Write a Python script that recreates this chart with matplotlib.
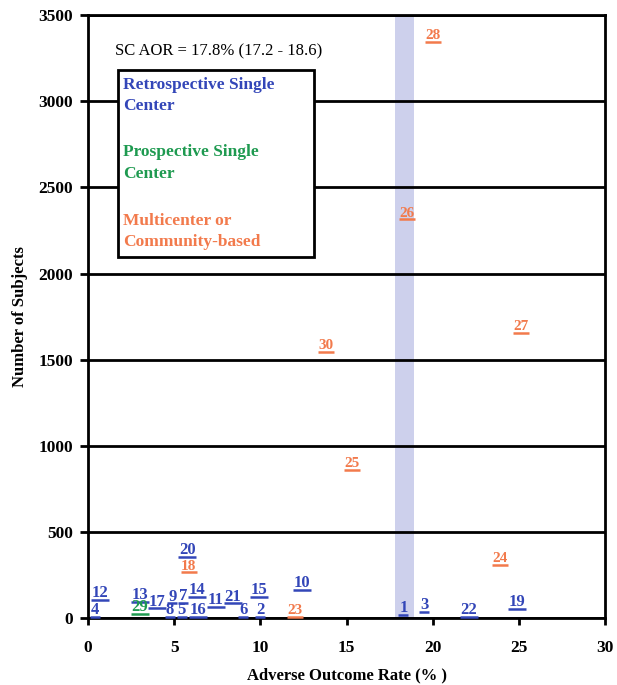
import matplotlib
matplotlib.use("Agg")
import matplotlib.pyplot as plt
from matplotlib.patches import Rectangle

# study number, adverse outcome rate (%), number of subjects, study type
study_ids = [1, 2, 3, 4, 5, 6, 7, 8, 9, 10,
             11, 12, 13, 14, 15, 16, 17, 18, 19, 20,
             21, 22, 23, 24, 25, 26, 27, 28, 29, 30]
aor_pct = [18.3, 10.0, 19.5, 0.4, 5.45, 9.0, 5.5, 4.75, 4.9, 12.4,
           7.4, 0.7, 3.0, 6.3, 9.9, 6.4, 4.0, 5.85, 24.9, 5.75,
           8.4, 22.1, 12.0, 23.9, 15.3, 18.5, 25.1, 20.0, 3.0, 13.8]
subjects = [20, 8, 35, 8, 8, 8, 90, 8, 85, 165,
            65, 105, 95, 122, 122, 8, 58, 267, 55, 355,
            85, 8, 8, 310, 860, 2315, 1655, 3345, 25, 1545]
study_type = ["R", "R", "R", "R", "R", "R", "R", "R", "R", "R",
              "R", "R", "R", "R", "R", "R", "R", "M", "R", "R",
              "R", "R", "M", "M", "M", "M", "M", "M", "P", "M"]

sc_aor_band = [17.8, 18.9]
x_ticks = [0, 5, 10, 15, 20, 25, 30]
y_ticks = [0, 500, 1000, 1500, 2000, 2500, 3000, 3500]

colors = {"R": "#3346b8", "P": "#1e9a50", "M": "#f27a4c"}
sizes = {"R": 12, "P": 12, "M": 11}

plt.rcParams["font.family"] = ["Liberation Serif", "DejaVu Serif"]

fig = plt.figure(figsize=(6.17, 6.85), dpi=100)
ax = fig.add_axes([0.1426, 0.0978, 0.838, 0.880])

ax.axvspan(sc_aor_band[0], sc_aor_band[1], color="#cdd0ec", zorder=0, lw=0)

ax.set_xlim(0, 30)
ax.set_ylim(0, 3500)
ax.set_xticks(x_ticks)
ax.set_yticks(y_ticks)
ax.set_xticklabels([str(v) for v in x_ticks], fontweight="bold", fontsize=12.5)
ax.set_yticklabels([str(v) for v in y_ticks], fontweight="bold", fontsize=12.5)
ax.tick_params(axis="y", direction="out", length=6, width=2, pad=5)
ax.tick_params(axis="x", direction="out", length=5, width=2, pad=11)
ax.yaxis.grid(True, color="black", lw=2, zorder=1)
ax.set_axisbelow(False)
for s in ax.spines.values():
    s.set_linewidth(2)
    s.set_color("black")

for sid, x, y, t in zip(study_ids, aor_pct, subjects, study_type):
    c = colors[t]
    fs = sizes[t]
    w = fs * (0.55 if sid < 10 else 1.05)
    ax.plot([x], [y], marker="_", ms=w, mew=1.8, color=c, zorder=4, clip_on=False)
    ax.annotate(str(sid), (x, y), xytext=(0, 1.8), textcoords="offset points",
                ha="center", va="baseline", fontsize=fs, fontweight="bold",
                color=c, zorder=4)

# legend box
ax.add_patch(Rectangle((0.058, 0.599), 0.379, 0.310, transform=ax.transAxes,
                       facecolor="white", edgecolor="black", lw=2, zorder=3))
ax.text(0.052, 0.940, "SC AOR = 17.8% (17.2 - 18.6)", transform=ax.transAxes,
        fontsize=12, ha="left", va="center", zorder=4)
legend_items = [("Retrospective Single\nCenter", "R", 0.898),
                ("Prospective Single\nCenter", "P", 0.786),
                ("Multicenter or\nCommunity-based", "M", 0.672)]
for txt, t, ypos in legend_items:
    ax.text(0.068, ypos, txt, transform=ax.transAxes,
            fontsize=12.5, fontweight="bold", color=colors[t], ha="left", va="top",
            linespacing=1.45, zorder=4)

ax.set_xlabel("Adverse Outcome Rate (% )", fontsize=12, fontweight="bold", labelpad=8)
ax.set_ylabel("Number of Subjects", fontsize=12, fontweight="bold", labelpad=7)

fig.savefig("out.png", dpi=100)
